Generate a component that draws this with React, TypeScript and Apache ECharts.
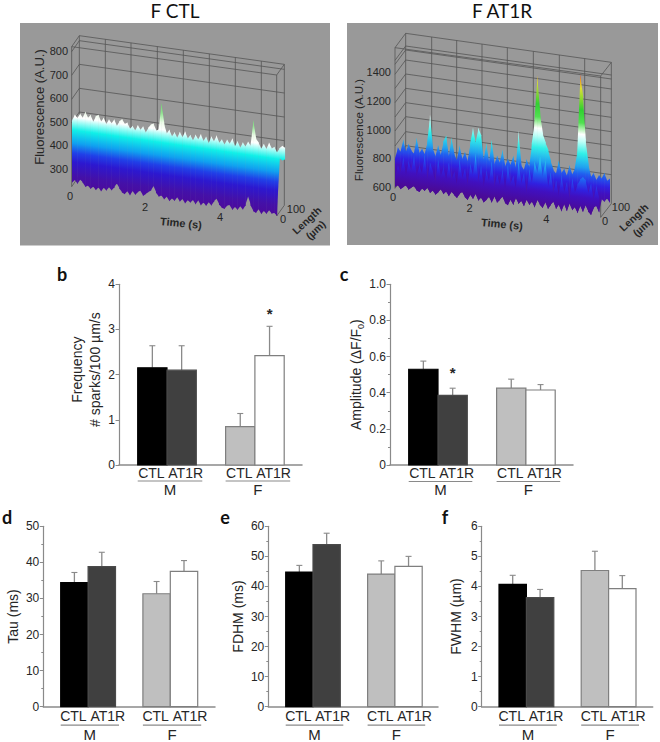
import React, { useEffect, useRef } from "react";
import * as echarts from "echarts";

// ---------- bar panel data ----------
const groups = ["M", "F"];
const barLabels = ["CTL", "AT1R", "CTL", "AT1R"];
const barSlots = [0, 1, 3, 4];

const freqValues = [2.15, 2.1, 0.85, 2.42];
const freqErrTops = [2.64, 2.64, 1.14, 3.07];
const ampValues = [0.53, 0.385, 0.425, 0.415];
const ampErrTops = [0.575, 0.425, 0.475, 0.445];
const tauValues = [34.4, 38.8, 31.3, 37.5];
const tauErrTops = [37.2, 42.8, 34.7, 40.5];
const fdhmValues = [44.8, 53.9, 44.1, 46.7];
const fdhmErrTops = [47, 57.7, 48.5, 50];
const fwhmValues = [4.07, 3.63, 4.53, 3.93];
const fwhmErrTops = [4.37, 3.9, 5.17, 4.36];

// ---------- surface data: fluorescence sampled every SAMPLE_STEP seconds ----------
const SAMPLE_STEP = 0.07;
const ctlTop = [
  505, 532, 518, 540, 522, 552, 526, 541, 512, 538,
  546, 518, 537, 510, 533, 516, 536, 508, 531, 542,
  522, 530, 504, 520, 500, 526, 506, 524, 498, 520,
  536, 542, 512, 520, 633, 548, 506, 526, 496, 518,
  494, 522, 500, 528, 498, 516, 492, 520, 500, 526,
  496, 518, 490, 522, 500, 530, 498, 516, 494, 518,
  500, 526, 492, 518, 490, 516, 498, 522, 505, 616,
  540, 524, 498, 522, 500, 530, 506, 516, 492,
  512, 525, 518,
];
const ctlBottom = [
  242, 256, 240, 260, 250, 232, 240, 226, 238, 224,
  238, 222, 240, 228, 246, 232, 248, 266, 246, 230,
  224, 240, 222, 244, 228, 242, 250, 228, 238, 248,
  256, 278, 250, 234, 242, 226, 240, 222, 236, 226,
  244, 226, 240, 222, 238, 228, 242, 224, 244, 222,
  238, 224, 242, 228, 248, 262, 238, 226, 222, 238,
  242, 222, 238, 226, 244, 230, 250, 292, 254, 230,
  224, 242, 222, 238, 226, 244, 230, 236, 224,
  470, 462, 468,
];
const at1rTop = [
  800, 880, 850, 940, 855, 915, 870, 850, 965, 860,
  895, 855, 945, 1138, 910, 850, 935, 865, 965, 1010,
  860, 1000, 890, 845, 955, 860, 915, 850, 975, 1090,
  985, 1095, 1045, 875, 995, 860, 1025, 855, 920, 870,
  965, 850, 910, 865, 935, 850, 1114, 875, 845, 925,
  870, 1040, 1200, 1520, 1260, 1120, 1060, 1010, 935, 875,
  850, 945, 860, 895, 845, 925, 860, 905, 1040, 1572,
  1420, 1120, 955, 860, 895, 845, 885,
  860, 905, 850, 870,
];
const at1rBottom = [
  600, 616, 590, 608, 622, 594, 612, 626, 598, 588,
  618, 600, 628, 592, 614, 586, 606, 630, 596, 620,
  588, 624, 602, 584, 616, 632, 598, 580, 622, 592,
  634, 586, 612, 578, 600, 626, 584, 634, 590, 614,
  640, 596, 584, 628, 590, 646, 602, 630, 592, 644,
  606, 634, 594, 652, 618, 598, 644, 596, 628, 656,
  604, 640, 592, 650, 600, 660, 612, 638, 596, 654,
  610, 664, 618, 596, 650, 668, 622,
  720, 700, 730, 700,
];
const at1rFrontTop = [
  720, 800, 750, 860, 730, 840, 770, 880, 740, 820,
  760, 900, 730, 850, 790, 720, 880, 760, 830, 740,
  870, 750, 810, 720, 900, 770, 840, 730, 880, 800,
  960, 760, 880, 730, 850, 770, 920, 740, 830, 760,
  870, 730, 910, 780, 840, 750, 950, 790, 870, 730,
  900, 800, 960, 880, 1000, 860, 980, 790, 900, 760,
  850, 740, 890, 770, 850, 730, 880, 780, 840, 880,
  900, 880, 790, 860, 750, 850, 770,
];
const timeTicks = [0, 2, 4];

// ---------- styling and layout ----------
const SANS = '"Liberation Sans", Arial, sans-serif';
const CAL = 'Lato, "Noto Sans", sans-serif';
const INK = "#262626";
const AXIS = "#8a8a8a";
const barFills = ["#000000", "#404040", "#bfbfbf", "#ffffff"];
const barBorders = ["#000000", "#4a4a4a", "#7f7f7f", "#7f7f7f"];

const ctlStops: [number, string][] = [
  [225, "#4c0a9c"], [270, "#4410a8"], [330, "#2c18d0"], [368, "#2040e8"],
  [410, "#10a0f0"], [465, "#10f0e8"], [495, "#90fbf4"], [520, "#ffffff"],
  [550, "#ecfbe8"], [590, "#90e890"], [640, "#60d860"],
];
const at1rStops: [number, string][] = [
  [580, "#4a0890"], [665, "#4a0a98"], [757, "#4010c0"], [805, "#3020e0"],
  [875, "#2060f0"], [920, "#20a0f0"], [1015, "#30f0e8"], [1100, "#c0fff8"],
  [1150, "#ffffff"], [1230, "#50e050"], [1320, "#30d030"], [1470, "#dde030"],
  [1530, "#f09a20"], [1572, "#e03020"],
];

const surfaces = [
  {
    title: "F CTL", titleX: 175, rect: [20, 23, 310, 222.5],
    grid: { left: 72, top: 27.4, width: 205.1, height: 165.2 },
    xMax: 5.47, yMin: 200, yMax: 900, yInterval: 100, shear: 22.5, floor: 224,
    stops: ctlStops, tickDx: -2, tickDy: 9,
    box: { ox: 0, bl: [215, 140, 560], br: [830, 225, 648], dx: 23, dy: -33, dyR: -32,
      levels: [15, 86, 158, 229], verticals: [316, 393, 472, 550, 628, 706, 784] },
    fluor: [39, 107, 13], time: [181, 223], len: [311, 225], ticks100: [296, 209], ticks0: [283, 219],
  },
  {
    title: "F AT1R", titleX: 502, rect: [347, 23, 311, 222],
    grid: { left: 395, top: 43.8, width: 205.7, height: 171.8 },
    xMax: 5.37, yMin: 400, yMax: 1600, yInterval: 200, shear: 37.7, floor: 600,
    stops: at1rStops, tickDx: -2, tickDy: 10.5,
    box: { ox: 330, bl: [195, 143, 565], br: [812, 228, 652], dx: 32, dy: -43, dyR: -41,
      levels: [38, 50, 80, 122, 165, 208, 250, 295, 337], verticals: [305, 380, 456, 532, 610, 688, 764] },
    fluor: [359, 130, 11.5], time: [502, 224], len: [638, 222], ticks100: [621, 207], ticks0: [605, 221],
  },
];

const panels = [
  { letter: "b", lx: 62, ly: 274, values: freqValues, tops: freqErrTops,
    grid: { left: 119, top: 284.3, width: 183, height: 180.7 }, barW: 29.3, lead: 18.7,
    yMax: 4, yInterval: 1, minor: false, digits: 0, nameGap: 13, namePad: [0, 0, 0, 10],
    name: "Frequency\n# sparks/100 µm/s", atDx: 4, lineDy: 16, lblDy: 8, grpDy: 24.5, extra: 6,
    star: [4, 3.36] },
  { letter: "c", lx: 344, ly: 274, values: ampValues, tops: ampErrTops,
    grid: { left: 390, top: 284.3, width: 183, height: 180.7 }, barW: 29.3, lead: 18.7,
    yMax: 1, yInterval: 0.2, minor: true, digits: 1, nameGap: 24, namePad: [0, 0, 0, 0],
    name: "{a|Amplitude (ΔF/F}{s|0}{a|)}", atDx: 4, lineDy: 16.5, lblDy: 8, grpDy: 24.5, extra: 5,
    star: [1, 0.51] },
  { letter: "d", lx: 7, ly: 517, values: tauValues, tops: tauErrTops,
    grid: { left: 43.3, top: 526.3, width: 171.7, height: 180.4 }, barW: 27.4, lead: 17.4,
    yMax: 50, yInterval: 10, minor: true, digits: 0, nameGap: 21, namePad: [0, 0, 0, 0],
    name: "Tau (ms)", atDx: 6, lineDy: 18.5, lblDy: 9.5, grpDy: 28, extra: 3.5, star: null },
  { letter: "e", lx: 225, ly: 517, values: fdhmValues, tops: fdhmErrTops,
    grid: { left: 268.3, top: 526.3, width: 169.7, height: 180.4 }, barW: 27.3, lead: 17.4,
    yMax: 60, yInterval: 10, minor: true, digits: 0, nameGap: 21, namePad: [0, 0, 0, 0],
    name: "FDHM (ms)", atDx: 6, lineDy: 18.5, lblDy: 9.5, grpDy: 28, extra: 3, star: null },
  { letter: "f", lx: 445, ly: 517, values: fwhmValues, tops: fwhmErrTops,
    grid: { left: 481.7, top: 526.3, width: 171, height: 180.4 }, barW: 27.4, lead: 17.3,
    yMax: 6, yInterval: 1, minor: true, digits: 0, nameGap: 17, namePad: [0, 0, 0, 0],
    name: "FWHM (µm)", atDx: 6, lineDy: 18.5, lblDy: 9.5, grpDy: 28, extra: 3, star: null },
];

function gradientFrom(stops: [number, string][], y0: number, y1: number) {
  const lo = stops[0][0];
  const hi = stops[stops.length - 1][0];
  return new echarts.graphic.LinearGradient(
    0, y0, 0, y1,
    stops.map(([f, color]) => ({ offset: (f - lo) / (hi - lo), color })),
    true
  );
}

function surfaceSeries(top: number[], bottom: number[], s: any, axis: number, depth: number) {
  const count = Math.min(top.length, bottom.length) - 1;
  const lo = s.stops[0][0];
  const hi = s.stops[s.stops.length - 1][0];
  return {
    type: "custom", xAxisIndex: axis, yAxisIndex: axis, silent: true, clip: false,
    encode: { x: 0, y: 1 }, z: 3,
    data: top.slice(0, count).map((v, i) => [i * SAMPLE_STEP, v]),
    renderItem: (params: any, api: any) => {
      const i = params.dataIndex;
      const t0 = i * SAMPLE_STEP;
      const t1 = (i + 1) * SAMPLE_STEP;
      const p = (t: number, f: number) => api.coord([t, f - s.shear * t]);
      const a = p(t0, top[i] - depth);
      const b = p(t1, top[i + 1] - depth);
      const c = p(t1, bottom[i + 1]);
      const d = p(t0, bottom[i]);
      b[0] += 0.5; c[0] += 0.5;
      return {
        type: "polygon",
        shape: { points: [a, b, c, d] },
        style: { fill: gradientFrom(s.stops, p(t0, lo - depth)[1], p(t0, hi - depth)[1]) },
      };
    },
  };
}

function timeLabels(s: any, axis: number) {
  return {
    type: "custom", xAxisIndex: axis, yAxisIndex: axis, silent: true, clip: false,
    encode: { x: 0, y: 1 }, z: 4,
    data: timeTicks.map((t) => [t, s.floor]),
    renderItem: (params: any, api: any) => {
      const t = timeTicks[params.dataIndex];
      const [x, y] = api.coord([t, s.floor - s.shear * t]);
      return {
        type: "text", x: x + s.tickDx, y: y + s.tickDy,
        style: { text: String(t), fill: INK, font: `11px ${SANS}`, align: "center", verticalAlign: "middle" },
      };
    },
  };
}

function boxGraphics(s: any) {
  const { ox, bl, br, dx, dy, dyR, levels, verticals } = s.box;
  const X = (v: number) => ox + v / 3;
  const Y = (v: number) => v / 3;
  const out: any[] = [];
  const seg = (x1: number, y1: number, x2: number, y2: number) =>
    out.push({
      type: "line", z: 1, silent: true,
      shape: { x1: X(x1), y1: Y(y1), x2: X(x2), y2: Y(y2) },
      style: { stroke: "#555555", lineWidth: 0.8 },
    });
  const [lx, lTop, lBot] = bl;
  const [rx, rTop, rBot] = br;
  seg(lx, lTop, rx, rTop);
  seg(lx, lTop, lx, lBot);
  seg(rx, rTop, rx, rBot);
  seg(lx + dx, lTop + dy, rx + dx, rTop + dyR);
  seg(lx + dx, lTop + dy, lx + dx, lBot + dy);
  seg(rx + dx, rTop + dyR, rx + dx, rBot + dyR);
  seg(lx, lTop, lx + dx, lTop + dy);
  seg(rx, rTop, rx + dx, rTop + dyR);
  seg(lx, lBot, lx + dx, lBot + dy);
  seg(rx, rBot, rx + dx, rBot + dyR);
  levels.forEach((lv: number) => {
    seg(lx + dx, lTop + dy + lv, rx + dx, rTop + dyR + lv);
    seg(lx, lTop + lv, lx + dx, lTop + dy + lv);
  });
  const frac = (rTop + dyR - (lTop + dy)) / (rx - lx);
  verticals.forEach((vx: number) => {
    const yT = lTop + dy + (vx - lx - dx) * frac;
    seg(vx, yT, vx, yT + (lBot - lTop));
  });
  return out;
}

function text(x: number, y: number, t: string, font: string, extra: any = {}) {
  return {
    type: "text", x, y, z: 5, silent: true, rotation: extra.rotation || 0,
    style: { text: t, fill: extra.fill || INK, font, align: "center", verticalAlign: "middle", lineHeight: extra.lineHeight },
  };
}

function buildOption() {
  const grid: any[] = [];
  const xAxis: any[] = [];
  const yAxis: any[] = [];
  const series: any[] = [];
  const graphic: any[] = [];

  surfaces.forEach((s, n) => {
    grid.push(s.grid);
    xAxis.push({ gridIndex: n, type: "value", min: 0, max: s.xMax, show: false });
    yAxis.push({
      gridIndex: n, type: "value", min: s.yMin, max: s.yMax, interval: s.yInterval,
      axisLine: { show: false }, axisTick: { show: false }, splitLine: { show: false },
      axisLabel: {
        margin: 4, color: INK, fontFamily: SANS, fontSize: 11,
        formatter: (v: number) => (v === s.yMin || v === s.yMax ? "" : String(v)),
      },
    });
    graphic.push({
      type: "rect", z: -1, silent: true,
      shape: { x: s.rect[0], y: s.rect[1], width: s.rect[2], height: s.rect[3] },
      style: { fill: "#999999" },
    });
    graphic.push(...boxGraphics(s));
    graphic.push(text(s.titleX, 10, s.title, `19px ${CAL}`, { fill: "#111111" }));
    graphic.push(text(s.fluor[0], s.fluor[1], "Fluorescence (A.U.)", `${s.fluor[2]}px ${SANS}`, { rotation: Math.PI / 2 }));
    graphic.push(text(s.time[0], s.time[1], "Time (s)", `bold 11px ${SANS}`, { rotation: -0.1 }));
    graphic.push(text(s.len[0], s.len[1], "Length\n(µm)", `bold 10.5px ${SANS}`, { rotation: 0.75, lineHeight: 13 }));
    graphic.push(text(s.ticks100[0], s.ticks100[1], "100", `11px ${SANS}`));
    graphic.push(text(s.ticks0[0], s.ticks0[1], "0", `11px ${SANS}`));
  });
  series.push(surfaceSeries(ctlTop, ctlBottom, surfaces[0], 0, 0));
  series.push(timeLabels(surfaces[0], 0));
  series.push(surfaceSeries(at1rTop, at1rBottom, surfaces[1], 1, 0));
  series.push(surfaceSeries(at1rFrontTop, at1rBottom, surfaces[1], 1, 45));
  series.push(timeLabels(surfaces[1], 1));

  panels.forEach((p, k) => {
    const n = k + surfaces.length;
    grid.push(p.grid);
    const xMin = -0.5 - p.lead / p.barW;
    xAxis.push({
      gridIndex: n, type: "value", min: xMin, max: xMin + p.grid.width / p.barW,
      axisLine: { show: true, onZero: false, lineStyle: { color: AXIS, width: 1.5 } },
      axisTick: { show: false }, axisLabel: { show: false }, splitLine: { show: false },
    });
    yAxis.push({
      gridIndex: n, type: "value", min: 0, max: p.yMax, interval: p.yInterval,
      name: p.name, nameLocation: "middle", nameGap: p.nameGap, nameRotate: 90,
      nameTextStyle: {
        color: INK, fontFamily: SANS, fontSize: 14, lineHeight: 18, padding: p.namePad,
        rich: {
          a: { color: INK, fontFamily: SANS, fontSize: 14 },
          s: { color: INK, fontFamily: SANS, fontSize: 9, verticalAlign: "bottom", padding: [6, 0, 0, 0] },
        },
      },
      axisLine: { show: true, onZero: false, lineStyle: { color: AXIS, width: 1.2 } },
      axisTick: { show: true, length: 3.5, lineStyle: { color: AXIS } },
      minorTick: { show: p.minor, splitNumber: 2, length: 2, lineStyle: { color: AXIS } },
      splitLine: { show: false },
      axisLabel: {
        margin: 4, color: INK, fontFamily: SANS, fontSize: 12,
        formatter: (v: number) => (v === 0 ? "0" : v.toFixed(p.digits)),
      },
    });
    graphic.push(text(p.lx, p.ly, p.letter, `bold 18px ${CAL}`, { fill: "#111111" }));

    series.push({
      type: "custom", xAxisIndex: n, yAxisIndex: n, silent: true, clip: false, z: 3,
      encode: { x: 0, y: 1 },
      data: barSlots.map((slot, i) => [slot, p.values[i], p.tops[i]]),
      renderItem: (params: any, api: any) => {
        const i = params.dataIndex;
        const slot = api.value(0);
        const [x0, y0] = api.coord([slot - 0.5, 0]);
        const [x1, yV] = api.coord([slot + 0.5, api.value(1)]);
        const xc = (x0 + x1) / 2;
        const yT = api.coord([slot, api.value(2)])[1];
        return {
          type: "group",
          children: [
            { type: "line", shape: { x1: xc, y1: yV, x2: xc, y2: yT }, style: { stroke: "#8a8a8a", lineWidth: 1.3 } },
            { type: "line", shape: { x1: xc - 3, y1: yT, x2: xc + 3, y2: yT }, style: { stroke: "#8a8a8a", lineWidth: 1.1 } },
            {
              type: "rect",
              shape: { x: x0, y: yV, width: x1 - x0, height: y0 - yV },
              style: { fill: barFills[i], stroke: barBorders[i], lineWidth: 1.2 },
            },
          ],
        };
      },
    });

    series.push({
      type: "custom", xAxisIndex: n, yAxisIndex: n, silent: true, clip: false, z: 4,
      encode: { x: 0, y: 1 },
      data: barSlots.map((slot) => [slot, 0]),
      renderItem: (params: any, api: any) => {
        const i = params.dataIndex;
        const [x, y] = api.coord([barSlots[i], 0]);
        const lab = barLabels[i];
        return {
          type: "text", x: x + (lab === "CTL" ? -1 : p.atDx), y: y + p.lblDy,
          style: { text: lab, fill: INK, font: `14px ${SANS}`, align: "center", verticalAlign: "middle" },
        };
      },
    });

    series.push({
      type: "custom", xAxisIndex: n, yAxisIndex: n, silent: true, clip: false, z: 4,
      encode: { x: 0, y: 1 },
      data: groups.map((_, g) => [barSlots[g * 2], 0]),
      renderItem: (params: any, api: any) => {
        const g = params.dataIndex;
        const [xa, y] = api.coord([barSlots[g * 2] - 0.5, 0]);
        const [xb] = api.coord([barSlots[g * 2 + 1] + 0.5, 0]);
        return {
          type: "group",
          children: [
            { type: "line", shape: { x1: xa, y1: y + p.lineDy, x2: xb + p.extra, y2: y + p.lineDy }, style: { stroke: "#8a8a8a", lineWidth: 1.2 } },
            {
              type: "text", x: (xa + xb + p.extra) / 2, y: y + p.grpDy,
              style: { text: groups[g], fill: INK, font: `15px ${SANS}`, align: "center", verticalAlign: "middle" },
            },
          ],
        };
      },
    });

    if (p.star) {
      series.push({
        type: "custom", xAxisIndex: n, yAxisIndex: n, silent: true, clip: false, z: 4,
        encode: { x: 0, y: 1 },
        data: [p.star],
        renderItem: (_: any, api: any) => {
          const [x, y] = api.coord([api.value(0), api.value(1)]);
          return {
            type: "text", x, y,
            style: { text: "*", fill: INK, font: `bold 15px ${SANS}`, align: "center", verticalAlign: "middle" },
          };
        },
      });
    }
  });

  return { animation: false, backgroundColor: "#ffffff", grid, xAxis, yAxis, series, graphic };
}

export default function App() {
  const ref = useRef<HTMLDivElement>(null);
  useEffect(() => {
    document.body.style.margin = "0";
    const chart = echarts.init(ref.current!, undefined, { renderer: "svg" });
    chart.setOption(buildOption() as any);
    return () => chart.dispose();
  }, []);
  return <div ref={ref} style={{ width: 660, height: 742 }} />;
}
